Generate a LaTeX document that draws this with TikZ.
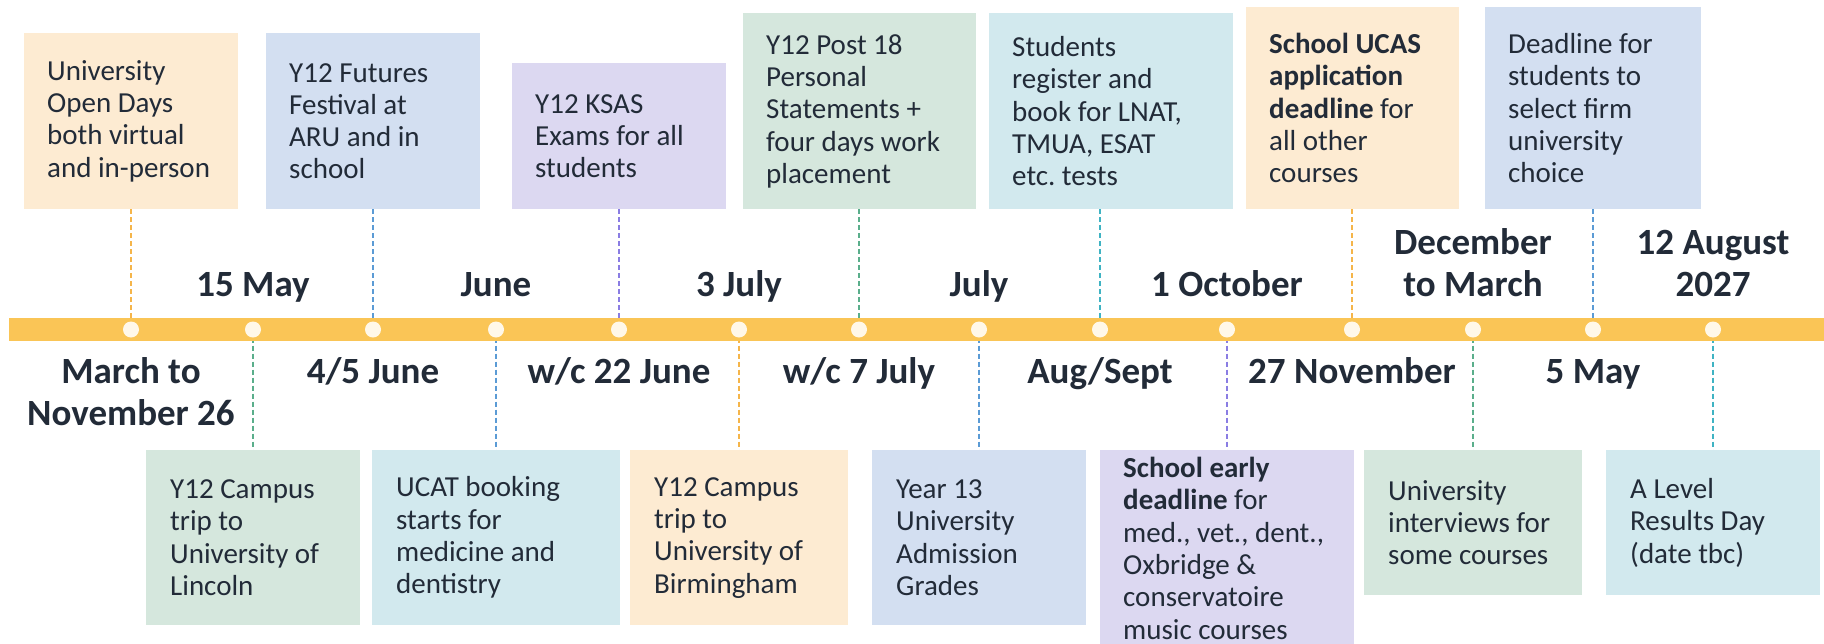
\documentclass[tikz,border=0pt]{standalone}
\usepackage{fontspec}
\setmainfont{Carlito}
\frenchspacing
\definecolor{ink}{HTML}{222B38}
\definecolor{barc}{HTML}{FAC556}
\definecolor{dotc}{HTML}{FFF8E9}
\definecolor{peachf}{HTML}{FDEBD2}
\definecolor{bluef}{HTML}{D3DFF1}
\definecolor{lavf}{HTML}{DCD8F1}
\definecolor{greenf}{HTML}{D5E7DD}
\definecolor{cyanf}{HTML}{D2E9EE}
\definecolor{peachl}{HTML}{F5B54A}
\definecolor{bluel}{HTML}{5B9BD5}
\definecolor{lavl}{HTML}{8A7DE3}
\definecolor{greenl}{HTML}{5AAE8B}
\definecolor{cyanl}{HTML}{3FB3C3}
\pgfdeclarelayer{bg}
\pgfsetlayers{bg,main}
\tikzset{
  evbox/.style={draw=none, inner sep=0pt, anchor=north west},
  evtext/.style={anchor=west, inner sep=0pt, align=left, text=ink, font=\fontsize{29}{32.3}\selectfont},
  datelbl/.style={anchor=base, inner sep=0pt, align=center, text=ink, font=\fontsize{37}{41.5}\selectfont\bfseries},
  tick/.style={circle, fill=dotc, minimum size=16pt, inner sep=0pt},
  conn/.style={line width=1.3pt, dash pattern=on 5pt off 3pt},
}
\begin{document}
\begin{tikzpicture}[x=1pt, y=-1pt]
\path[use as bounding box, clip] (0,0) rectangle (1824,643);

% timeline bar and dots
\node[fill=barc, minimum width=1815pt, minimum height=23pt, inner sep=0pt, anchor=west] (bar) at (9,329.5) {};
\foreach \x [count=\i from 0] in {131,253,373,496,619,739,859,979,1100,1227,1352,1473,1593,1713}
  \node[tick] (d\i) at (\x,329.5) {};

% top boxes
\node[evbox, fill=peachf, minimum width=214pt, minimum height=176pt] (A) at (24,33) {};
\node[evtext] (At) at ([xshift=23pt]A.west) {University\\Open Days\\both virtual\\and in-person};
\node[evbox, fill=bluef, minimum width=214pt, minimum height=176pt] (B) at (266,33) {};
\node[evtext] (Bt) at ([xshift=23pt]B.west) {Y12 Futures\\Festival at\\ARU and in\\school};
\node[evbox, fill=lavf, minimum width=214pt, minimum height=146pt] (C) at (512,63) {};
\node[evtext] (Ct) at ([xshift=23pt]C.west) {Y12 KSAS\\Exams for all\\students};
\node[evbox, fill=greenf, minimum width=233pt, minimum height=196pt] (D) at (743,13) {};
\node[evtext] (Dt) at ([xshift=23pt]D.west) {Y12 Post 18\\Personal\\Statements +\\four days work\\placement};
\node[evbox, fill=cyanf, minimum width=244pt, minimum height=196pt] (E) at (989,13) {};
\node[evtext] (Et) at ([xshift=23pt]E.west) {Students\\register and\\book for LNAT,\\TMUA, ESAT\\etc. tests};
\node[evbox, fill=peachf, minimum width=213pt, minimum height=202pt] (F) at (1246,7) {};
\node[evtext] (Ft) at ([xshift=23pt]F.west) {\textbf{School UCAS}\\\textbf{application}\\\textbf{deadline} for\\all other\\courses};
\node[evbox, fill=bluef, minimum width=216pt, minimum height=202pt] (G) at (1485,7) {};
\node[evtext] (Gt) at ([xshift=23pt]G.west) {Deadline for\\students to\\select firm\\university\\choice};

% bottom boxes
\node[evbox, fill=greenf, minimum width=214pt, minimum height=175pt] (L1) at (146,450) {};
\node[evtext] (L1t) at ([xshift=24pt]L1.west) {Y12 Campus\\trip to\\University of\\Lincoln};
\node[evbox, fill=cyanf, minimum width=248pt, minimum height=175pt] (L2) at (372,450) {};
\node[evtext] (L2t) at ([xshift=24pt]L2.west) {UCAT booking\\starts for\\medicine and\\dentistry};
\node[evbox, fill=peachf, minimum width=218pt, minimum height=175pt] (L3) at (630,450) {};
\node[evtext] (L3t) at ([xshift=24pt]L3.west) {Y12 Campus\\trip to\\University of\\Birmingham};
\node[evbox, fill=bluef, minimum width=214pt, minimum height=175pt] (L4) at (872,450) {};
\node[evtext] (L4t) at ([xshift=24pt]L4.west) {Year 13\\University\\Admission\\Grades};
\node[evbox, fill=lavf, minimum width=254pt, minimum height=196pt] (L5) at (1100,450) {};
\node[evtext] (L5t) at ([xshift=23pt]L5.west) {\textbf{School early}\\\textbf{deadline} for\\med., vet., dent.,\\Oxbridge \&\\conservatoire\\music courses};
\node[evbox, fill=greenf, minimum width=218pt, minimum height=145pt] (L6) at (1364,450) {};
\node[evtext] (L6t) at ([xshift=24pt]L6.west) {University\\interviews for\\some courses};
\node[evbox, fill=cyanf, minimum width=214pt, minimum height=145pt] (L7) at (1606,450) {};
\node[evtext] (L7t) at ([xshift=24pt]L7.west) {A Level\\Results Day\\(date tbc)};

% connectors
\begin{pgfonlayer}{bg}
\fill[white] (0,0) rectangle (1824,643);
\draw[conn, peachl] (d0 |- A.south) -- (d0.center);
\draw[conn, bluel] (d2 |- B.south) -- (d2.center);
\draw[conn, lavl] (d4 |- C.south) -- (d4.center);
\draw[conn, greenl] (d6 |- D.south) -- (d6.center);
\draw[conn, cyanl] (d8 |- E.south) -- (d8.center);
\draw[conn, peachl] (d10 |- F.south) -- (d10.center);
\draw[conn, bluel] (d12 |- G.south) -- (d12.center);
\draw[conn, greenl] (d1.center) -- (d1 |- L1.north);
\draw[conn, bluel] (d3.center) -- (d3 |- L2.north);
\draw[conn, peachl] (d5.center) -- (d5 |- L3.north);
\draw[conn, bluel] (d7.center) -- (d7 |- L4.north);
\draw[conn, lavl] (d9.center) -- (d9 |- L5.north);
\draw[conn, greenl] (d11.center) -- (d11 |- L6.north);
\draw[conn, cyanl] (d13.center) -- (d13 |- L7.north);
\end{pgfonlayer}

% date labels above the bar (anchored at the baseline of the last line)
\node[datelbl] (t1) at (253,296) {15 May};
\node[datelbl] (t3) at (496,296) {June};
\node[datelbl] (t5) at (739,296) {3 July};
\node[datelbl] (t7) at (979,296) {July};
\node[datelbl] (t9) at (1227,296) {1 October};
\node[datelbl] (t11) at (1473,296) {December\\to March};
\node[datelbl] (t13) at (1713,296) {12 August\\2027};

% date labels below the bar
\node[datelbl] (b0) at (131,425) {March to\\November 26};
\node[datelbl] (b2) at (373,383) {4/5 June};
\node[datelbl] (b4) at (619,383) {w/c 22 June};
\node[datelbl] (b6) at (859,383) {w/c 7 July};
\node[datelbl] (b8) at (1100,383) {Aug/Sept};
\node[datelbl] (b10) at (1352,383) {27 November};
\node[datelbl] (b12) at (1593,383) {5 May};
\end{tikzpicture}
\end{document}
